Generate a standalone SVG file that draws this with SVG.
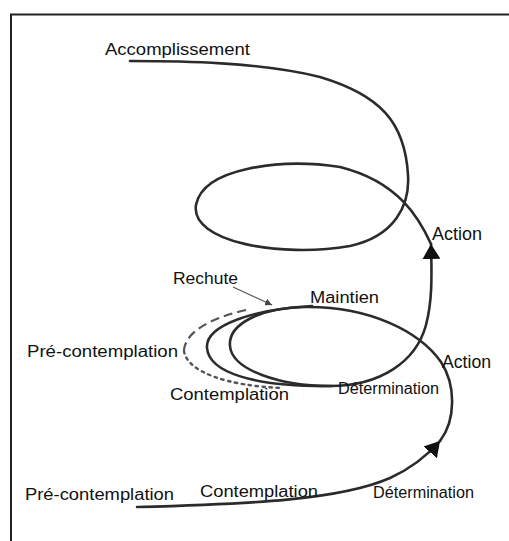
<svg xmlns="http://www.w3.org/2000/svg" width="509" height="541" viewBox="0 0 509 541">
  <style>
    .lbl { font-family: "Liberation Sans", Arial, sans-serif; font-size: 16px; fill: #111; }
    .big { font-size: 18px; }
    .curve { fill: none; stroke: #2b2b2b; stroke-width: 2.6; stroke-linecap: round; }
    .thin { fill: none; stroke: #555; stroke-width: 1.1; }
    .dash { fill: none; stroke: #555; stroke-width: 2.2; stroke-dasharray: 9 5; }
    .dot { fill: none; stroke: #555; stroke-width: 2.4; stroke-dasharray: 2.5 4.5; stroke-linecap: round; }
    .frame { stroke: #222; stroke-width: 2; fill: none; }
  </style>
  <defs>
    <marker id="arr" markerUnits="userSpaceOnUse" markerWidth="16" markerHeight="18" refX="15" refY="9" orient="auto">
      <path d="M0,0 L15,9 L0,18 z" fill="#111"/>
    </marker>
    <marker id="arrSmall" markerUnits="userSpaceOnUse" markerWidth="8" markerHeight="7" refX="7" refY="3.5" orient="auto">
      <path d="M0,0 L7,3.5 L0,7 z" fill="#444"/>
    </marker>
  </defs>
  <rect width="509" height="541" fill="#fff"/>
  <path class="frame" d="M11,541 L11,14.5 L509,14.5"/>

  <g id="connectors">
    <path class="curve" marker-end="url(#arr)" d="M137,507 C 250,504 340,500 390,478 C 412,468 426,457 440,441"/>
    <path class="curve" marker-end="url(#arr)" d="M440,441 C 456,420 456,385 441,362 C 420,332 370,306 305,307 C 258,308 228,325 230,346 C 232,370 280,386 330,386 C 380,386 416,362 426,325 C 432,302 432,280 431,244"/>
    <path class="curve" d="M431,244 C 420,220 400,182 340,167 C 280,158 203,168 196,205 C 190,242 280,258 350,246 C 395,236 410,205 408,175 C 405,122 380,95 320,77 C 260,62 180,61 130,61"/>
    <path class="curve" d="M312,306 C 255,309 205,325 207,348 C 209,372 252,387 332,386"/>
    <path class="dash" d="M246,310 C 215,317 186,330 184,350"/>
    <path class="dot" d="M184,351 C 187,372 228,386 282,388"/>
    <path class="thin" marker-end="url(#arrSmall)" d="M233,287 L272,305"/>
  </g>

  <g id="accomplissement"><text class="lbl" x="105" y="55" textLength="145" lengthAdjust="spacingAndGlyphs">Accomplissement</text></g>
  <g id="action-top"><text class="lbl big" x="432" y="240" textLength="50" lengthAdjust="spacingAndGlyphs">Action</text></g>
  <g id="rechute"><text class="lbl" x="173" y="284" textLength="65" lengthAdjust="spacingAndGlyphs">Rechute</text></g>
  <g id="maintien"><text class="lbl" x="310" y="303" textLength="69" lengthAdjust="spacingAndGlyphs">Maintien</text></g>
  <g id="precontemplation-mid"><text class="lbl" x="27" y="357" textLength="151" lengthAdjust="spacingAndGlyphs">Pré-contemplation</text></g>
  <g id="action-mid"><text class="lbl big" x="442" y="368" textLength="49" lengthAdjust="spacingAndGlyphs">Action</text></g>
  <g id="contemplation-mid"><text class="lbl" x="170" y="400" textLength="119" lengthAdjust="spacingAndGlyphs">Contemplation</text></g>
  <g id="determination-mid"><text class="lbl" x="338" y="394" textLength="101" lengthAdjust="spacingAndGlyphs">Détermination</text></g>
  <g id="precontemplation-bottom"><text class="lbl" x="25" y="500" textLength="149" lengthAdjust="spacingAndGlyphs">Pré-contemplation</text></g>
  <g id="contemplation-bottom"><text class="lbl" x="200" y="497" textLength="118" lengthAdjust="spacingAndGlyphs">Contemplation</text></g>
  <g id="determination-bottom"><text class="lbl" x="373" y="498" textLength="101" lengthAdjust="spacingAndGlyphs">Détermination</text></g>
</svg>
